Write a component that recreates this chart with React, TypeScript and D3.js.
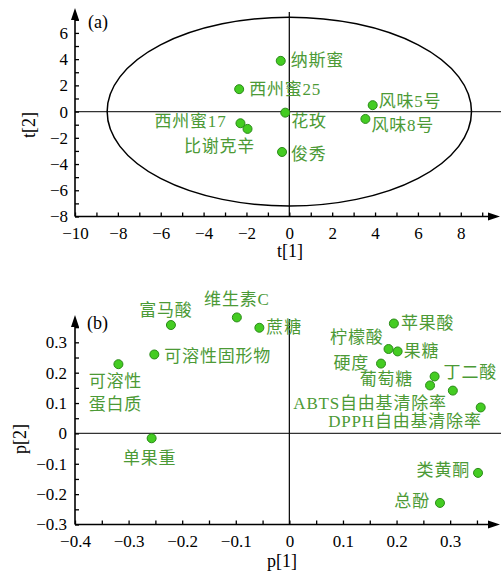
import { useEffect, useRef } from "react";
import * as d3 from "d3";

// (a) scores of cultivars on PC1 / PC2
const cultivars = ["纳斯蜜", "西州蜜25", "花玫", "风味5号", "风味8号", "俊秀", "西州蜜17", "比谢克辛"];
const t1 = [-0.4, -2.34, -0.19, 3.89, 3.55, -0.34, -2.28, -1.95];
const t2 = [3.87, 1.71, -0.08, 0.49, -0.56, -3.08, -0.89, -1.32];
const ellipseAxes = [8.5, 7.2]; // Hotelling T2 ellipse semi-axes (t1, t2)

// (b) loadings of quality traits
const traits = ["富马酸", "维生素C", "蔗糖", "可溶性固形物", "可溶性\n蛋白质", "单果重", "苹果酸", "柠檬酸", "果糖", "硬度",
  "丁二酸", "葡萄糖", "ABTS自由基清除率", "DPPH自由基清除率", "类黄酮", "总酚"];
const p1 = [-0.221, -0.098, -0.056, -0.252, -0.319, -0.257, 0.195, 0.185, 0.202, 0.171, 0.271, 0.2625, 0.305, 0.357, 0.352, 0.281];
const p2 = [0.357, 0.382, 0.348, 0.26, 0.228, -0.016, 0.362, 0.278, 0.27, 0.23, 0.1875, 0.158, 0.141, 0.0855, -0.13, -0.229];

// tick labels
const tXLabels = [-10, -8, -6, -4, -2, 0, 2, 4, 6, 8];
const tYLabels = [-8, -6, -4, -2, 0, 2, 4, 6];
const pXLabels = [-0.4, -0.3, -0.2, -0.1, 0, 0.1, 0.2, 0.3];
const pYLabels = [-0.3, -0.2, -0.1, 0, 0.1, 0.2, 0.3];

// label placement [dx, dy, anchor]
const cultivarPos: [number, number, string][] = [
  [10, 0, "start"], [10, 0, "start"], [6, 9, "start"], [6, -4, "start"], [6, 7, "start"],
  [9, 3, "start"], [-14, -2, "end"], [-28, 18, "middle"],
];
const traitPos: [number, number, string][] = [
  [-5, -15, "middle"], [0, -18, "middle"], [7, 0, "start"], [10, 2, "start"], [-3, 17, "middle"],
  [-2, 20, "middle"], [7, 0, "start"], [-5, -12, "end"], [6, 0, "start"], [-12, 0, "end"],
  [9, -4, "start"], [-17, -6, "end"], [-6, 13, "end"], [1, 14, "end"], [-8, -2, "end"], [-10, -1, "end"],
];

const SERIF = "'Liberation Serif', 'Times New Roman', serif";
const LABEL_FONT = "'Liberation Serif', 'Noto Sans CJK SC', serif";
const PT_FILL = "#44cc22";
const PT_STROKE = "#2a8a18";
const TXT = "#4c9a36";

export default function App() {
  const ref = useRef<SVGSVGElement>(null);

  useEffect(() => {
    const svg = d3.select(ref.current);
    svg.selectAll("*").remove();

    function panel(opts: any) {
      const { x, y, xTicks, yTicks, xLabels, yLabels, fmt, top, yPad } = opts;
      const g = svg.append("g");
      const [x0] = x.range();
      const yBottom = y.range()[0];

      // zero lines
      g.append("line").attr("x1", x0).attr("x2", 501).attr("y1", y(0)).attr("y2", y(0))
        .attr("stroke", "#333").attr("stroke-width", 1.3);
      g.append("line").attr("x1", x(0)).attr("x2", x(0)).attr("y1", top + 4).attr("y2", yBottom)
        .attr("stroke", "#111").attr("stroke-width", 1.3);

      const labelFmt = (d: number) => xLabels.some((v: number) => Math.abs(v - d) < 1e-9) ? fmt(d) : "";
      const labelFmtY = (d: number) => yLabels.some((v: number) => Math.abs(v - d) < 1e-9) ? fmt(d) : "";

      const ax = g.append("g").attr("transform", `translate(0,${yBottom})`)
        .call(d3.axisBottom(x).tickValues(xTicks).tickFormat(labelFmt as any).tickSize(-4).tickSizeOuter(0).tickPadding(10));
      const ay = g.append("g").attr("transform", `translate(${x0},0)`)
        .call(d3.axisLeft(y).tickValues(yTicks).tickFormat(labelFmtY as any).tickSize(-4).tickSizeOuter(0).tickPadding(yPad));
      [ax, ay].forEach(a => {
        a.attr("font-family", null).attr("font-size", null);
        a.select(".domain").remove();
        a.selectAll("line").attr("stroke", "#000").attr("stroke-width", 1.3);
        a.selectAll("text").attr("font-family", SERIF).attr("font-size", 17).attr("fill", "#000");
      });

      // axis lines with arrows
      g.append("line").attr("x1", x0).attr("x2", 492).attr("y1", yBottom).attr("y2", yBottom)
        .attr("stroke", "#000").attr("stroke-width", 1.6);
      g.append("path").attr("d", `M500,${yBottom} L488,${yBottom - 4} L488,${yBottom + 4} Z`).attr("fill", "#000");
      g.append("line").attr("x1", x0).attr("x2", x0).attr("y1", yBottom).attr("y2", top + 8)
        .attr("stroke", "#000").attr("stroke-width", 1.6);
      g.append("path").attr("d", `M${x0},${top} L${x0 - 4},${top + 12} L${x0 + 4},${top + 12} Z`).attr("fill", "#000");
      return g;
    }

    function points(g: any, xs: number[], ys: number[], names: string[], pos: [number, number, string][], x: any, y: any) {
      xs.forEach((v, i) => {
        g.append("circle").attr("cx", x(v)).attr("cy", y(ys[i])).attr("r", 4.5)
          .attr("fill", PT_FILL).attr("stroke", PT_STROKE).attr("stroke-width", 1);
        const [dx, dy, anchor] = pos[i];
        const t = g.append("text").attr("x", x(v) + dx).attr("y", y(ys[i]) + dy)
          .attr("text-anchor", anchor).attr("dominant-baseline", "central")
          .attr("font-family", LABEL_FONT).attr("font-size", 17).attr("letter-spacing", 0.8).attr("fill", TXT);
        const lines = names[i].split("\n");
        if (lines.length === 1) t.text(lines[0]);
        else lines.forEach((l, j) => t.append("tspan").attr("x", x(v) + dx).attr("dy", j === 0 ? 0 : 22.5).text(l));
      });
    }

    // ---- (a)
    const xa = d3.scaleLinear().domain([-10, 9.83]).range([75, 500]);
    const ya = d3.scaleLinear().domain([-8, 7.9]).range([216.5, 8]);
    const ga = panel({
      x: xa, y: ya, top: 8, yPad: 7,
      xTicks: d3.range(-10, 10, 1), yTicks: d3.range(-8, 8, 1),
      xLabels: tXLabels, yLabels: tYLabels, fmt: d3.format("d"),
    });
    ga.append("ellipse").attr("cx", xa(0)).attr("cy", ya(0))
      .attr("rx", xa(ellipseAxes[0]) - xa(0)).attr("ry", ya(0) - ya(ellipseAxes[1]))
      .attr("fill", "none").attr("stroke", "#000").attr("stroke-width", 1.5);
    points(ga, t1, t2, cultivars, cultivarPos, xa, ya);
    ga.append("text").attr("x", 88).attr("y", 28).attr("font-family", SERIF).attr("font-size", 18).text("(a)");
    ga.append("text").attr("x", 290).attr("y", 257).attr("text-anchor", "middle")
      .attr("font-family", SERIF).attr("font-size", 18).text("t[1]");
    ga.append("text").attr("transform", "translate(29,125) rotate(-90)").attr("text-anchor", "middle")
      .attr("dominant-baseline", "central").attr("font-family", SERIF).attr("font-size", 18).text("t[2]");

    // ---- (b)
    const xb = d3.scaleLinear().domain([-0.4, 0.393]).range([75, 500]);
    const yb = d3.scaleLinear().domain([-0.3, 0.39]).range([524.5, 315]);
    const fmtB = (d: number) => Math.abs(d) < 1e-9 ? "0" : d3.format(".1f")(d);
    const gb = panel({
      x: xb, y: yb, top: 315, yPad: 8,
      xTicks: d3.range(-8, 8).map(i => i * 0.05), yTicks: d3.range(-6, 8).map(i => i * 0.05),
      xLabels: pXLabels, yLabels: pYLabels, fmt: fmtB,
    });
    points(gb, p1, p2, traits, traitPos, xb, yb);
    gb.append("text").attr("x", 87).attr("y", 329).attr("font-family", SERIF).attr("font-size", 18).text("(b)");
    gb.append("text").attr("x", 282).attr("y", 567).attr("text-anchor", "middle")
      .attr("font-family", SERIF).attr("font-size", 18).text("p[1]");
    gb.append("text").attr("transform", "translate(20,439) rotate(-90)").attr("text-anchor", "middle")
      .attr("dominant-baseline", "central").attr("font-family", SERIF).attr("font-size", 18).text("p[2]");
  }, []);

  return (
    <svg ref={ref} width={501} height={576}
      style={{ position: "absolute", left: 0, top: 0, background: "#fff" }} />
  );
}
